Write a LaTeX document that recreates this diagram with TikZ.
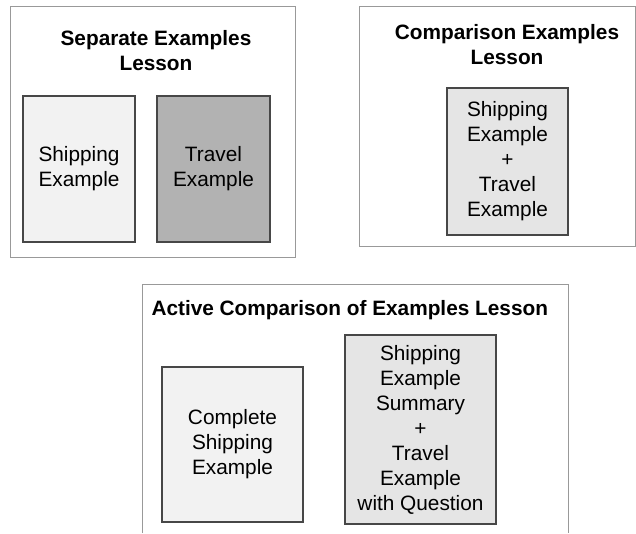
\documentclass[tikz,border=0pt]{standalone}
\usepackage{fontspec}
\setmainfont{Liberation Sans}
\usetikzlibrary{positioning}

\begin{document}
\begin{tikzpicture}[x=1pt, y=-1pt, node distance=20pt,
        every node/.style={align=center, font=\fontsize{20.8}{25}\selectfont},
        frame/.style={draw=black!40, line width=0.8pt},
        title/.style={font=\fontsize{20.8}{25}\selectfont\bfseries},
        card/.style={draw=black!72, line width=2pt, inner sep=0pt},
        lightcard/.style={card, fill=black!5},
        midcard/.style={card, fill=black!10},
        darkcard/.style={card, fill=black!30}]
    \useasboundingbox (0,0) rectangle (636,533);
    % separate examples lesson
    \node[frame, minimum width=285pt, minimum height=251pt] (F1) at (152.5,131.5) {};
    \node[title] (T1) at (156,51) {Separate Examples\\Lesson};
    \node[lightcard, minimum width=112pt, minimum height=146pt] (S1) at (79,169) {Shipping\\Example};
    \node[darkcard, minimum width=113pt, minimum height=146pt, right=of S1] (V1) {Travel\\Example};
    % comparison examples lesson
    \node[frame, minimum width=276pt, minimum height=240pt] (F2) at (497,126) {};
    \node[title] (T2) at (507,45) {Comparison Examples\\Lesson};
    \node[midcard, minimum width=121pt, minimum height=147pt] (C2) at (507.5,161.5) {Shipping\\Example\\+\\Travel\\Example};
    % active comparison of examples lesson
    \coordinate (F3a) at (142,533);
    \coordinate (F3b) at (568,533);
    \draw[frame] (F3a) |- (568,284) -- (F3b);
    \node[title, anchor=west] (T3) at (148,310) {Active Comparison of Examples Lesson};
    \node[lightcard, minimum width=141pt, minimum height=155pt] (S3) at (232.5,444.5) {Complete\\Shipping\\Example};
    \node[midcard, minimum width=151pt, minimum height=189pt] (C3) at (420.5,429.5) {Shipping\\Example\\Summary\\+\\Travel\\Example\\with Question};
\end{tikzpicture}
\end{document}
